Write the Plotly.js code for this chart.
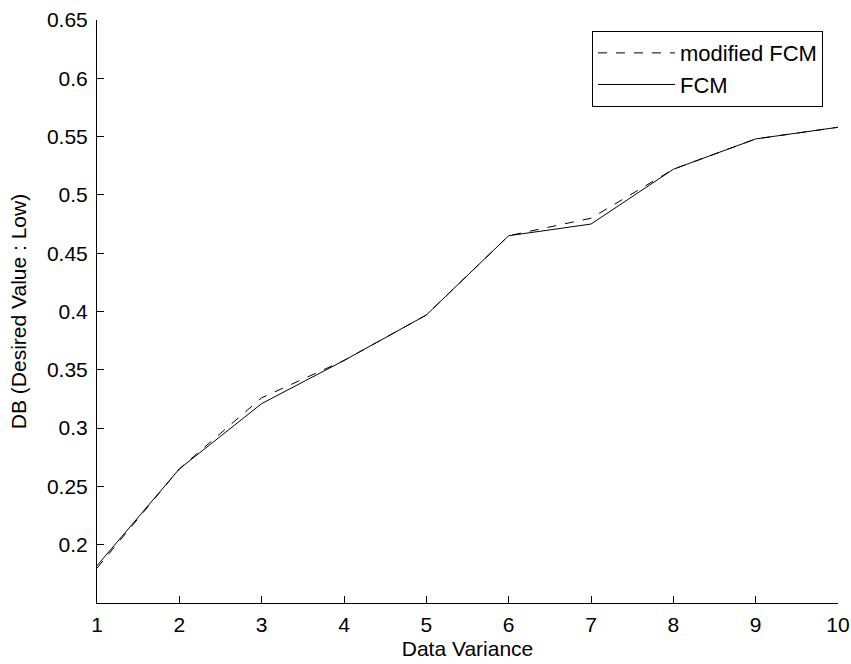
<!DOCTYPE html>
<html>
<head>
<meta charset="utf-8">
<script src="https://cdn.plot.ly/plotly-3.0.1.min.js"></script>
<style>html,body{margin:0;padding:0;background:#fff;}#chart{width:851px;height:664px;}</style>
</head>
<body>
<div id="chart"></div>
<script>
const variance = [1, 2, 3, 4, 5, 6, 7, 8, 9, 10];
const modifiedFCM = [0.180, 0.265, 0.326, 0.358, 0.397, 0.465, 0.480, 0.522, 0.548, 0.558];
const fcm = [0.182, 0.265, 0.321, 0.358, 0.397, 0.465, 0.475, 0.522, 0.548, 0.558];
const yTickVals = [0.2, 0.25, 0.3, 0.35, 0.4, 0.45, 0.5, 0.55, 0.6, 0.65];
const yTickText = ['0.2', '0.25', '0.3', '0.35', '0.4', '0.45', '0.5', '0.55', '0.6', '0.65'];
const xTickVals = [1, 2, 3, 4, 5, 6, 7, 8, 9, 10];

const font = {family: 'Liberation Sans, Arial, sans-serif', size: 21, color: '#000'};

const traces = [
  {x: variance, y: modifiedFCM, mode: 'lines', name: 'modified FCM', legendgroup: 'a',
   line: {color: '#000', width: 1, dash: 'dash'}},
  {x: variance, y: fcm, mode: 'lines', name: 'FCM', legendgroup: 'b',
   line: {color: '#000', width: 1}}
];

const layout = {
  width: 851, height: 664,
  margin: {l: 97, r: 13, t: 20, b: 61},
  paper_bgcolor: '#fff', plot_bgcolor: '#fff',
  font: font,
  showlegend: true,
  legend: {
    x: 0.668, y: 0.981, xanchor: 'left', yanchor: 'top',
    bordercolor: '#000', borderwidth: 1, bgcolor: '#fff',
    font: {family: font.family, size: 22, color: '#000'},
    tracegroupgap: 0, itemwidth: 77,
    traceorder: 'grouped'
  },
  xaxis: {
    range: [1, 10], tickvals: xTickVals, ticks: 'inside', ticklen: 7,
    tickcolor: '#000', showline: true, linecolor: '#000', linewidth: 1,
    showgrid: false, zeroline: false, mirror: false,
    tickfont: font, ticklabelstandoff: 3,
    title: {text: 'Data Variance', font: font, standoff: 6}
  },
  yaxis: {
    range: [0.15, 0.65], tickvals: yTickVals, ticktext: yTickText,
    ticks: 'inside', ticklen: 7, tickcolor: '#000',
    showline: true, linecolor: '#000', linewidth: 1,
    showgrid: false, zeroline: false, mirror: false,
    tickfont: font, ticklabelstandoff: 4,
    title: {text: 'DB (Desired Value : Low)', font: font, standoff: 14}
  }
};

Plotly.newPlot('chart', traces, layout, {displayModeBar: false, staticPlot: true});
</script>
</body>
</html>
